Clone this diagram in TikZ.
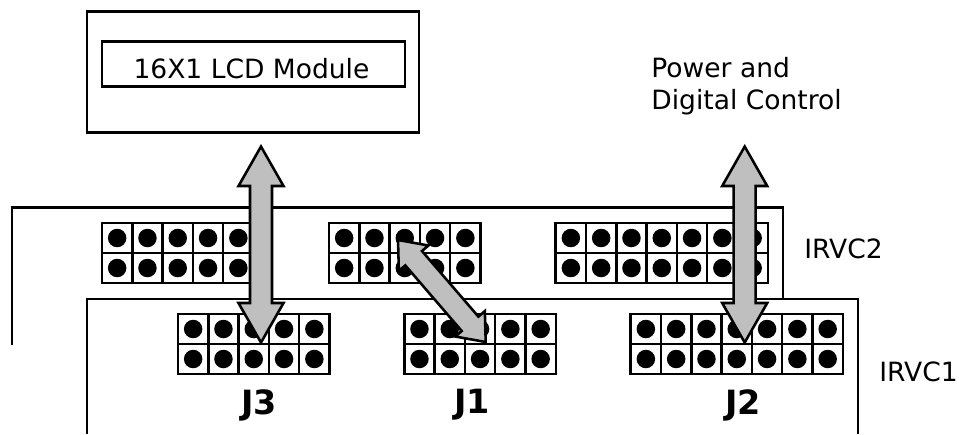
\documentclass[tikz,border=0pt]{standalone}
\usepackage{fontspec}
\setmainfont{DejaVu Sans}
\usetikzlibrary{calc}

\definecolor{flowgray}{gray}{0.75}

\tikzset{
    outline/.style={draw, line width=1.45pt},
    boxnode/.style={outline, inner sep=0pt, outer sep=0pt},
    pincell/.style={boxnode, minimum size=0.606cm},
    pindot/.style={circle, fill=black, inner sep=0pt, minimum size=0.37cm},
    flowarrow/.style={draw=black, fill=flowgray, line width=1.45pt, line join=miter},
    plainlabel/.style={font=\fontsize{15.1}{18.1}\selectfont, inner sep=0pt},
    jlabel/.style={font=\fontsize{19}{22}\selectfont\bfseries, inner sep=0pt}
}

% name, left edge, top edge, columns
\newcommand{\pinheader}[4]{
    \foreach \c in {1,...,#4} {
        \foreach \r in {1,2} {
            \node[pincell] (#1c\r\c) at ({#2+(\c-0.5)*30.3},{#3+(\r-0.5)*30}) {};
            \node[pindot] (#1d\r\c) at (#1c\r\c) {};
        }
    }
}

% tip, tip, head length, half head width
\newcommand{\bothway}[4]{
    \coordinate (ab) at ($(#1)!#3!(#2)$);
    \coordinate (ba) at ($(#2)!#3!(#1)$);
    \draw[flowarrow] (#1) -- ($(ab)!#4!90:(#2)$) -- ($(ab)!0.22cm!90:(#2)$)
        -- ($(ba)!0.22cm!-90:(#1)$) -- ($(ba)!#4!-90:(#1)$) -- (#2)
        -- ($(ba)!#4!90:(#1)$) -- ($(ba)!0.22cm!90:(#1)$)
        -- ($(ab)!0.22cm!-90:(#2)$) -- ($(ab)!#4!-90:(#2)$) -- cycle;
}

\begin{document}
\begin{tikzpicture}[x=0.02cm, y=-0.02cm]
    \useasboundingbox (0,0) rectangle (959,434);

    % boards
    \draw[outline] (12,345) |- (783,207.5) -- (783,299);
    \draw[outline] (87,433.5) |- (858,299) -- (858,433.5);

    % display
    \node[boxnode, minimum width=6.64cm, minimum height=2.43cm] (lcdbox) at (253,72) {};
    \node[boxnode, minimum width=6.06cm, minimum height=0.91cm] (lcd) at (253.5,64) {};
    \node[plainlabel] (lcdtxt) at (251.5,69) {16X1 LCD Module};

    % connectors
    \pinheader{upA}{102}{223}{5}
    \pinheader{upB}{329}{223}{5}
    \pinheader{upC}{555.7}{223}{7}
    \pinheader{Jthree}{178}{314}{5}
    \pinheader{Jone}{404.3}{314}{5}
    \pinheader{Jtwo}{630.7}{314}{7}

    % labels
    \node[plainlabel, align=left, anchor=west] (power) at (651,86) {Power and\\Digital Control};
    \node[plainlabel, anchor=west] (irvctwo) at (804,249) {IRVC2};
    \node[plainlabel, anchor=west] (irvcone) at (879,372) {IRVC1};
    \node[jlabel] (jthreetxt) at (259,405) {J3};
    \node[jlabel] (jonetxt) at (472,405) {J1};
    \node[jlabel] (jtwotxt) at (743,405) {J2};

    % arrows
    \coordinate (lcdend) at (261,146.5);
    \coordinate (jthreeend) at (261,342.5);
    \coordinate (powerend) at (744.7,146.5);
    \coordinate (jtwoend) at (744.7,342.5);
    \coordinate (upend) at (398,240);
    \coordinate (joneend) at (485.7,342);
    \bothway{lcdend}{jthreeend}{0.79cm}{0.45cm}
    \bothway{powerend}{jtwoend}{0.79cm}{0.45cm}
    \bothway{upend}{joneend}{0.48cm}{0.39cm}
\end{tikzpicture}
\end{document}
